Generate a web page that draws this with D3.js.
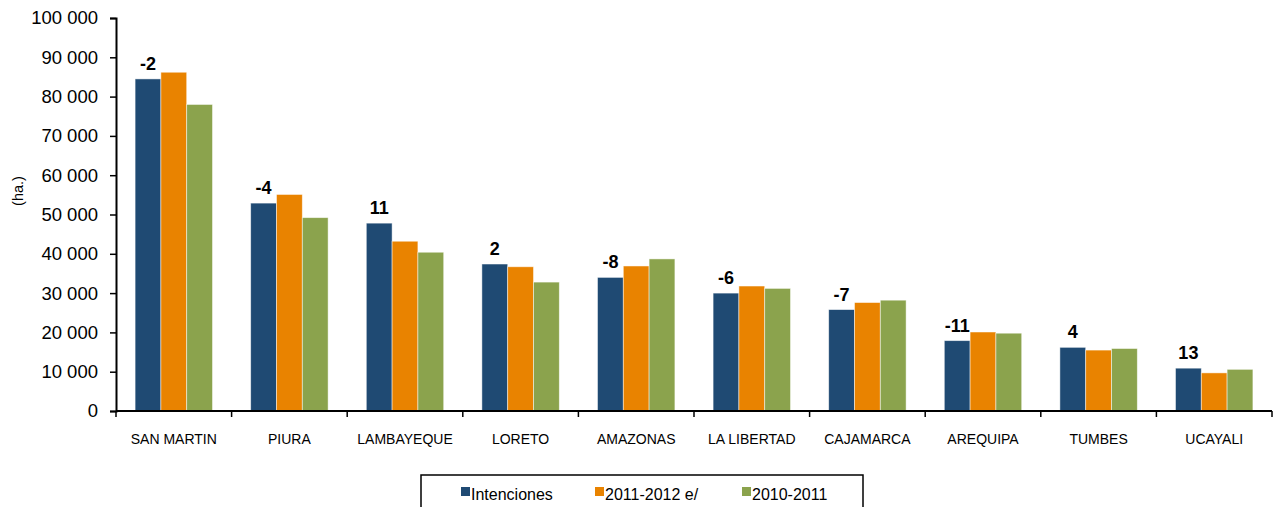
<!DOCTYPE html>
<html lang="es">
<head>
<meta charset="UTF-8">
<title>Intenciones de siembra</title>
<script src="https://d3js.org/d3.v7.min.js"></script>
<style>
  body { margin: 0; background: #fff; }
  text { font-family: "Liberation Sans", Arial, sans-serif; fill: #000; }
</style>
</head>
<body>
<div id="chart"></div>
<script>
const regiones = ["SAN MARTIN", "PIURA", "LAMBAYEQUE", "LORETO", "AMAZONAS", "LA LIBERTAD", "CAJAMARCA", "AREQUIPA", "TUMBES", "UCAYALI"];
const series = ["Intenciones", "2011-2012 e/", "2010-2011"];
const intenciones = [84500, 52900, 47800, 37400, 34000, 30000, 25800, 17900, 16200, 10900];
const campana1112 = [86200, 55100, 43200, 36700, 36900, 31800, 27600, 20100, 15500, 9700];
const campana1011 = [78000, 49200, 40400, 32800, 38700, 31200, 28200, 19800, 15900, 10600];
const variacion = ["-2", "-4", "11", "2", "-8", "-6", "-7", "-11", "4", "13"];
const yTicks = [0, 10000, 20000, 30000, 40000, 50000, 60000, 70000, 80000, 90000, 100000];
const colores = ["#1F4A73", "#E98300", "#8BA34D"];

const width = 1277, height = 507;
const margin = { top: 18, right: 5, bottom: 96, left: 116 };
const valores = [intenciones, campana1112, campana1011];

const svg = d3.select("#chart").append("svg")
  .attr("width", width).attr("height", height);

const x = d3.scaleBand().domain(regiones)
  .range([margin.left, 1272]).paddingInner(0).paddingOuter(0);
const xs = d3.scaleBand().domain(series)
  .range([0, x.bandwidth()]).paddingInner(0).paddingOuter(0.74);
const y = d3.scaleLinear().domain([0, 100000])
  .range([height - margin.bottom, margin.top]);

const fmt = v => d3.format(",")(v).replace(/,/g, " ");

// barras
const grupos = svg.append("g").selectAll("g")
  .data(regiones).enter().append("g")
  .attr("transform", d => `translate(${x(d)},0)`);

grupos.selectAll("rect")
  .data((d, i) => series.map((s, j) => ({ s, v: valores[j][i], c: colores[j] })))
  .enter().append("rect")
  .attr("x", d => xs(d.s))
  .attr("y", d => y(d.v))
  .attr("width", xs.bandwidth())
  .attr("height", d => y(0) - y(d.v))
  .attr("fill", d => d.c)
  .attr("stroke", "#ffffff")
  .attr("stroke-opacity", 0.6)
  .attr("stroke-width", 0.8);

// etiquetas de variación
grupos.append("text")
  .attr("x", xs(series[0]) + xs.bandwidth() / 2)
  .attr("y", (d, i) => y(intenciones[i]) - 9)
  .attr("text-anchor", "middle")
  .style("font-size", "18px")
  .style("font-weight", "bold")
  .text((d, i) => variacion[i]);

// eje y
const yAxis = svg.append("g")
  .attr("transform", `translate(${margin.left},0)`)
  .call(d3.axisLeft(y).tickValues(yTicks).tickFormat(fmt).tickSize(6).tickPadding(12));
yAxis.select(".domain").attr("stroke", "#000").attr("stroke-width", 2);
yAxis.selectAll(".tick line").attr("stroke", "#000").attr("stroke-width", 1.5);
yAxis.selectAll(".tick text").style("font-size", "18.5px")
  .style("font-family", "'Liberation Sans', Arial, sans-serif").attr("fill", "#000");

// eje x
const xAxisG = svg.append("g").attr("transform", `translate(0,${y(0)})`);
xAxisG.append("line")
  .attr("x1", margin.left).attr("x2", 1272)
  .attr("stroke", "#000").attr("stroke-width", 2);
xAxisG.selectAll("line.tk")
  .data(regiones.concat(["_fin"])).enter().append("line")
  .attr("class", "tk")
  .attr("x1", (d, i) => i < regiones.length ? x(d) : x.range()[1])
  .attr("x2", (d, i) => i < regiones.length ? x(d) : x.range()[1])
  .attr("y1", 0).attr("y2", 6)
  .attr("stroke", "#000").attr("stroke-width", 1.5);
xAxisG.selectAll("text")
  .data(regiones).enter().append("text")
  .attr("x", d => x(d) + x.bandwidth() / 2)
  .attr("y", 33)
  .attr("text-anchor", "middle")
  .style("font-size", "14px")
  .text(d => d);

// título eje y
svg.append("text")
  .attr("transform", "translate(23,191) rotate(-90)")
  .attr("text-anchor", "middle")
  .style("font-size", "14.5px")
  .text("(ha.)");

// leyenda
const leg = svg.append("g");
leg.append("rect")
  .attr("x", 421).attr("y", 475).attr("width", 442).attr("height", 40)
  .attr("fill", "none").attr("stroke", "#000").attr("stroke-width", 1.5);
const legX = [461, 595, 742];
series.forEach((s, j) => {
  leg.append("rect")
    .attr("x", legX[j]).attr("y", 487).attr("width", 9).attr("height", 9)
    .attr("fill", colores[j]);
  leg.append("text")
    .attr("x", legX[j] + 10).attr("y", 500)
    .style("font-size", "16px")
    .text(s);
});
</script>
</body>
</html>
